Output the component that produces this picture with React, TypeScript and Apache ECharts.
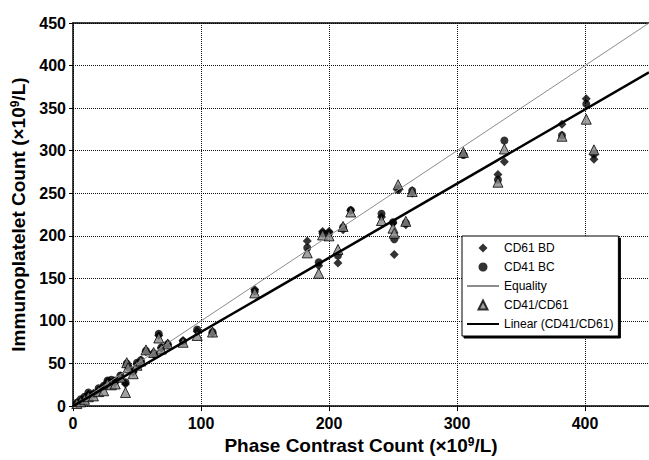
import React, { useEffect, useRef } from "react";
import * as echarts from "echarts";

const FONT = '"Liberation Sans", Arial, Helvetica, sans-serif';

// Phase contrast reference counts (x) and the three immunoplatelet methods (y)
const phaseContrast = [
  3, 6, 9, 12, 16, 20, 24, 27, 30, 33, 37, 41, 42, 43, 47, 50, 53, 57, 63, 67, 69, 74, 86, 97,
  109, 142, 183, 192, 195, 200, 207, 211, 217, 241, 250, 251, 254, 260, 265, 305, 332, 337, 382,
  401, 407,
];
const cd61BD = [
  3, 6, 9, 14, 15, 19, 23, 29, 27, 28, 33, 26, 48, 46, 40, 49, 52, 64, 61, 83, 68, 72, 77, 88,
  86, 137, 194, 165, 205, 205, 168, 207, 230, 222, 215, 178, 256, 213, 250, 296, 272, 287, 331,
  361, 290,
];
const cd41BC = [
  4, 8, 11, 16, 14, 21, 24, 30, 31, 30, 36, 28, 50, 47, 41, 51, 54, 65, 62, 85, 69, 73, 76, 90,
  87, 135, 186, 169, 203, 203, 177, 210, 230, 226, 216, 196, 254, 215, 253, 295, 266, 312, 318,
  355, 296,
];
const cd41cd61 = [
  3, 5, 8, 11, 12, 17, 18, 26, 25, 26, 34, 16, 51, 45, 38, 48, 53, 66, 63, 80, 67, 73, 75, 83,
  87, 133, 180, 156, 201, 200, 184, 211, 228, 218, 209, 203, 260, 217, 252, 298, 263, 302, 317,
  337, 301,
];

// Least-squares trend of CD41/CD61 against phase contrast
const trendSlope = 0.871;
const trendIntercept = 0;

const xTicks = { min: 0, max: 450, interval: 100 };
const yTicks = { min: 0, max: 450, interval: 50 };

const pairs = (ys: number[]) => phaseContrast.map((x, i) => [x, ys[i]]);

// Line entries in the legend show only their stroke
const hiddenSymbol = { color: "rgba(0,0,0,0)", borderWidth: 0, borderColor: "rgba(0,0,0,0)" };
// Square-proportioned legend icons for the marker series
const diamondIcon = "path://M5,0L10,5L5,10L0,5Z";
const triangleIcon = "path://M5,0L10,10L0,10Z";

export default function App() {
  const ref = useRef<HTMLDivElement>(null);

  useEffect(() => {
    if (!ref.current) return;
    const chart = echarts.init(ref.current, undefined, { renderer: "svg" });

    const axisName = {
      fontFamily: FONT,
      fontSize: 19,
      fontWeight: "bold" as const,
      color: "#000",
      rich: {
        sup: {
          fontFamily: FONT,
          fontSize: 12,
          fontWeight: "bold" as const,
          color: "#000",
          verticalAlign: "top" as const,
        },
      },
    };
    const tickLabel = {
      fontFamily: FONT,
      fontSize: 16,
      fontWeight: "bold" as const,
      color: "#000",
    };
    const gridLine = { show: true, lineStyle: { color: "#111", width: 1, type: [1, 1] as number[] } };

    chart.setOption({
      animation: false,
      backgroundColor: "#fff",
      textStyle: { fontFamily: FONT },
      grid: { left: 73, right: 0, top: 23, bottom: 53, containLabel: false },
      xAxis: [
        {
          type: "value",
          min: xTicks.min,
          max: xTicks.max,
          interval: xTicks.interval,
          name: "Phase Contrast Count (×10{sup|9}/L)",
          nameLocation: "middle",
          nameGap: 29,
          nameTextStyle: axisName,
          axisLine: { show: true, lineStyle: { color: "#000", width: 1.5 } },
          axisTick: { show: true, length: 5, lineStyle: { color: "#000" } },
          axisLabel: { ...tickLabel, margin: 9, showMaxLabel: false },
          splitLine: gridLine,
        },
        {
          type: "value",
          position: "top",
          min: xTicks.min,
          max: xTicks.max,
          axisLine: { show: true, lineStyle: { color: "#000", width: 1.5 } },
          axisTick: { show: false },
          axisLabel: { show: false },
          splitLine: { show: false },
        },
      ],
      yAxis: {
        type: "value",
        min: yTicks.min,
        max: yTicks.max,
        interval: yTicks.interval,
        name: "Immunoplatelet Count (×10{sup|9}/L)",
        nameLocation: "middle",
        nameGap: 40,
        nameRotate: 90,
        nameTextStyle: axisName,
        axisLine: { show: true, lineStyle: { color: "#000", width: 1.5 } },
        axisTick: { show: true, length: 4, lineStyle: { color: "#000" } },
        axisLabel: { ...tickLabel, margin: 7 },
        splitLine: gridLine,
      },
      legend: {
        orient: "vertical",
        left: 462,
        top: 236,
        padding: [6, 5, 6, 4],
        itemWidth: 32,
        itemHeight: 9,
        itemGap: 7,
        symbolKeepAspect: true,
        backgroundColor: "#fff",
        borderColor: "#000",
        borderWidth: 1,
        borderRadius: 0,
        shadowColor: "#000",
        shadowOffsetX: 2,
        shadowOffsetY: 2,
        shadowBlur: 0,
        textStyle: { fontFamily: FONT, fontSize: 12, color: "#000" },
        data: [
          { name: "CD61 BD", icon: diamondIcon },
          { name: "CD41 BC", icon: "circle" },
          { name: "Equality", itemStyle: hiddenSymbol },
          { name: "CD41/CD61", icon: triangleIcon },
          { name: "Linear (CD41/CD61)", itemStyle: hiddenSymbol },
        ],
      },
      series: [
        {
          name: "CD61 BD",
          type: "scatter",
          symbol: "diamond",
          symbolSize: 9,
          itemStyle: { color: "#000" },
          data: pairs(cd61BD),
        },
        {
          name: "CD41 BC",
          type: "scatter",
          symbol: "circle",
          symbolSize: 8,
          itemStyle: { color: "#000" },
          data: pairs(cd41BC),
        },
        {
          name: "Equality",
          type: "line",
          symbol: "none",
          lineStyle: { color: "#8c8c8c", width: 1 },
          itemStyle: { color: "#8c8c8c" },
          data: [
            [xTicks.min, xTicks.min],
            [xTicks.max, xTicks.max],
          ],
        },
        {
          name: "CD41/CD61",
          type: "scatter",
          symbol: "triangle",
          symbolSize: 10,
          itemStyle: { color: "#8a8a8a", borderColor: "#000", borderWidth: 1 },
          data: pairs(cd41cd61),
        },
        {
          name: "Linear (CD41/CD61)",
          type: "line",
          symbol: "none",
          lineStyle: { color: "#000", width: 2.5 },
          itemStyle: { color: "#000" },
          data: [
            [xTicks.min, trendIntercept + trendSlope * xTicks.min],
            [xTicks.max, trendIntercept + trendSlope * xTicks.max],
          ],
        },
      ],
    });

    return () => chart.dispose();
  }, []);

  return (
    <div
      ref={ref}
      style={{ position: "fixed", left: 0, top: 0, width: 649, height: 460, background: "#fff" }}
    />
  );
}
